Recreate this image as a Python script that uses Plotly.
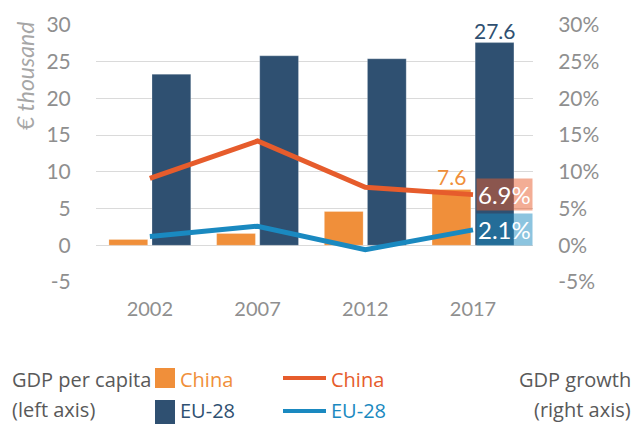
import plotly.graph_objects as go
from plotly.subplots import make_subplots

# ---------------------------------- #
#                DATA                #
# ---------------------------------- #

years = ['2002', '2007', '2012', '2017']

# GDP per capita, € thousand (left axis)
gdp_pc_china = [0.8, 1.6, 4.6, 7.6]
gdp_pc_eu = [23.3, 25.8, 25.4, 27.6]

# GDP growth, % (right axis)
growth_china = [9.1, 14.2, 7.9, 6.9]
growth_eu = [1.2, 2.6, -0.6, 2.1]

y_ticks = [-5, 0, 5, 10, 15, 20, 25, 30]
y_labels = [str(v) for v in y_ticks]
y2_labels = [f'{v}%' for v in y_ticks]

# ---------------------------------- #
#              STYLES                #
# ---------------------------------- #

FONT = 'Lato'
ORANGE = '#F08F3A'
NAVY = '#2F5071'
RED = '#E65C2C'
BLUE = '#1A89C0'
TICK_GRAY = '#8F8F8F'
TEXT_GRAY = '#595959'
GRID = '#DADADA'
NOTICK = 'rgba(0,0,0,0)'

fig = make_subplots(specs=[[{"secondary_y": True}]])

# GDP per capita bars
fig.add_trace(
    go.Bar(x=years, y=gdp_pc_china,
           name='China',
           marker=dict(color=ORANGE, line=dict(color='rgba(255,255,255,0.4)', width=0.6)),
           showlegend=False),
    secondary_y=False)

fig.add_trace(
    go.Bar(x=years, y=gdp_pc_eu,
           name='EU-28',
           marker=dict(color=NAVY, line=dict(color='rgba(255,255,255,0.4)', width=0.6)),
           showlegend=False),
    secondary_y=False)

# GDP growth lines
fig.add_trace(
    go.Scatter(x=years, y=growth_china, mode='lines', name='China',
               line=dict(color=RED, width=5),
               showlegend=False),
    secondary_y=True)

fig.add_trace(
    go.Scatter(x=years, y=growth_eu, mode='lines', name='EU-28',
               line=dict(color=BLUE, width=5),
               showlegend=False),
    secondary_y=True)

# value labels above the latest bars
for vals, col, shift in [(gdp_pc_china, ORANGE, -22), (gdp_pc_eu, NAVY, 22)]:
    fig.add_annotation(
        x=len(years) - 1, y=vals[-1], xref='x', yref='y',
        text=f'{vals[-1]}', showarrow=False,
        xanchor='center', yanchor='bottom', xshift=shift, yshift=-2,
        font=dict(family=FONT, size=21, color=col))

# end-of-line value boxes
for vals, col in [(growth_china, 'rgba(232,92,44,0.5)'), (growth_eu, 'rgba(26,137,192,0.5)')]:
    fig.add_annotation(
        x=len(years) - 1, y=vals[-1], xref='x', yref='y2',
        text=f'{vals[-1]}%', showarrow=False,
        xanchor='left', yanchor='middle', xshift=3,
        font=dict(family=FONT, size=24, color='white'),
        bgcolor=col, borderpad=1)

# axis title
fig.add_annotation(
    xref='paper', yref='paper', x=0, y=1,
    xshift=-71, yshift=5, xanchor='center', yanchor='top',
    text='<i>€ thousand</i>', textangle=-90, showarrow=False,
    font=dict(family=FONT, size=23, color='#A6A6A6'))

# ---------------------------------- #
#          CUSTOM LEGEND             #
# ---------------------------------- #

PLOT_L, PLOT_W, PLOT_B, PLOT_H = 96, 437, 282, 257


def px(x):
    return (x - PLOT_L) / PLOT_W


def py(y):
    return (PLOT_B - y) / PLOT_H


def legend_text(x, y, text, color, anchor='left'):
    fig.add_annotation(xref='paper', yref='paper', x=px(x), y=py(y),
                       text=text, showarrow=False, xanchor=anchor, yanchor='middle',
                       font=dict(family='Open Sans', size=20, color=color))


legend_text(10, 379, 'GDP per capita', TEXT_GRAY)
legend_text(10, 409, '(left axis)', TEXT_GRAY)
legend_text(633, 379, 'GDP growth', TEXT_GRAY, 'right')
legend_text(633, 409, '(right axis)', TEXT_GRAY, 'right')
legend_text(178, 379, 'China', ORANGE)
legend_text(178, 410, 'EU-28', NAVY)
legend_text(329, 379, 'China', RED)
legend_text(329, 410, 'EU-28', BLUE)

for y0, y1, col in [(368, 388, ORANGE), (400, 424, NAVY)]:
    fig.add_shape(type='rect', xref='paper', yref='paper',
                  x0=px(155), x1=px(175), y0=py(y1), y1=py(y0),
                  fillcolor=col, line=dict(width=0))

for y, col in [(378, RED), (411, BLUE)]:
    fig.add_shape(type='line', xref='paper', yref='paper',
                  x0=px(283), x1=px(326), y0=py(y), y1=py(y),
                  line=dict(color=col, width=4))

# ---------------------------------- #
#              AXES                  #
# ---------------------------------- #

fig.update_yaxes(secondary_y=False,
                 range=[-5, 30], tickvals=y_ticks, ticktext=y_labels,
                 showgrid=True, gridcolor=GRID, gridwidth=1,
                 zeroline=False, showline=False,
                 ticks='outside', ticklen=20, tickcolor=NOTICK,
                 tickfont=dict(family=FONT, size=21, color=TICK_GRAY))

fig.update_yaxes(secondary_y=True,
                 range=[-5, 30], tickvals=y_ticks, ticktext=y2_labels,
                 showgrid=False, zeroline=False, showline=False,
                 ticks='outside', ticklen=20, tickcolor=NOTICK,
                 tickfont=dict(family=FONT, size=21, color=TICK_GRAY))

# make_subplots leaves room for the right axis; margins handle that here
fig.update_xaxes(type='category', domain=[0, 1],
                 showgrid=False, showline=False,
                 ticks='outside', ticklen=9, tickcolor=NOTICK,
                 tickfont=dict(family=FONT, size=20, color=TICK_GRAY))

fig.update_layout(
    width=633, height=424,
    barmode='group', bargap=0.2, bargroupgap=0.1,
    plot_bgcolor='white', paper_bgcolor='white',
    font_family=FONT,
    margin=dict(l=96, r=100, t=25, b=142, autoexpand=False)
)

# drop the page margin so the figure sits at the window's corner
fix_page = ("document.body.style.margin='0';"
            "document.body.style.overflow='hidden';"
            "Plotly.relayout(document.getElementById('{plot_id}'), {width: 633, height: 424});")

fig.write_html("out.html", post_script=fix_page, config={'displayModeBar': False})
